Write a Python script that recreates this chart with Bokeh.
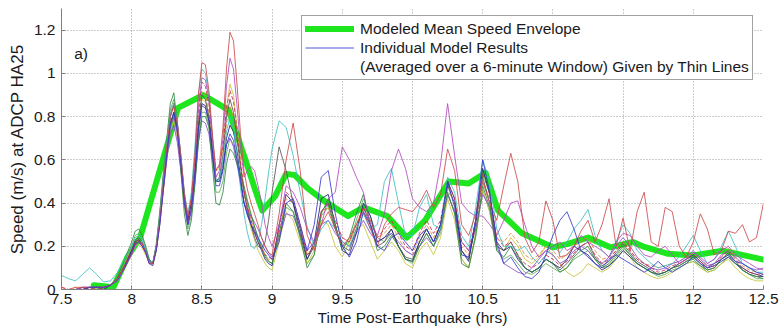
from bokeh.plotting import figure
from bokeh.models import (Legend, LegendItem, FixedTicker, NumeralTickFormatter, Label)
from bokeh.embed import file_html
from bokeh.resources import INLINE

# ---------------- data ----------------
# sampling times (hrs); finer sampling over the fast 8-9 h oscillations
time_h = [7.50, 7.55, 7.60, 7.65, 7.70, 7.75, 7.80, 7.85, 7.90, 7.95,
          8.000, 8.025, 8.050, 8.075, 8.100, 8.125, 8.150, 8.175, 8.200, 8.225,
          8.250, 8.275, 8.300, 8.325, 8.350, 8.375, 8.400, 8.425, 8.450, 8.475,
          8.500, 8.525, 8.550, 8.575, 8.600, 8.625, 8.650, 8.675, 8.700, 8.725,
          8.750, 8.775, 8.800, 8.825, 8.850, 8.875, 8.900, 8.925, 8.950, 8.975,
          9.00, 9.05, 9.10, 9.15, 9.20, 9.25, 9.30, 9.35, 9.40, 9.45,
          9.50, 9.55, 9.60, 9.65, 9.70, 9.75, 9.80, 9.85, 9.90, 9.95,
          10.00, 10.05, 10.10, 10.15, 10.20, 10.25, 10.30, 10.35, 10.40, 10.45,
          10.50, 10.55, 10.60, 10.65, 10.70, 10.75, 10.80, 10.85, 10.90, 10.95,
          11.00, 11.05, 11.10, 11.15, 11.20, 11.25, 11.30, 11.35, 11.40, 11.45,
          11.50, 11.55, 11.60, 11.65, 11.70, 11.75, 11.80, 11.85, 11.90, 11.95,
          12.00, 12.05, 12.10, 12.15, 12.20, 12.25, 12.30, 12.35, 12.40, 12.45,
          12.50]

model_red = [0.00, 0.00, 0.01, 0.01, 0.01, 0.00, 0.01, 0.02, 0.05, 0.11,
             0.17, 0.21, 0.22, 0.21, 0.17, 0.12, 0.12, 0.19, 0.32, 0.49,
             0.66, 0.80, 0.85, 0.77, 0.62, 0.44, 0.34, 0.42, 0.62, 0.90,
             1.05, 1.04, 0.92, 0.72, 0.55, 0.58, 0.75, 1.02, 1.19, 1.15,
             0.95, 0.72, 0.55, 0.46, 0.40, 0.35, 0.30, 0.24, 0.20, 0.17,
             0.16, 0.35, 0.60, 0.77, 0.55, 0.25, 0.18, 0.30, 0.36, 0.28,
             0.20, 0.24, 0.30, 0.36, 0.28, 0.20, 0.30, 0.35, 0.38, 0.37,
             0.36, 0.40, 0.46, 0.38, 0.44, 0.65, 0.55, 0.30, 0.25, 0.35,
             0.50, 0.40, 0.32, 0.48, 0.63, 0.50, 0.24, 0.17, 0.22, 0.41,
             0.32, 0.15, 0.16, 0.20, 0.27, 0.32, 0.22, 0.30, 0.42, 0.20,
             0.33, 0.18, 0.36, 0.45, 0.22, 0.20, 0.38, 0.36, 0.20, 0.15,
             0.22, 0.35, 0.28, 0.16, 0.18, 0.27, 0.26, 0.30, 0.22, 0.24,
             0.40]
model_magenta = [0.00, 0.00, 0.00, 0.01, 0.01, 0.01, 0.01, 0.02, 0.05, 0.10,
                 0.16, 0.20, 0.22, 0.20, 0.17, 0.12, 0.12, 0.18, 0.30, 0.46,
                 0.62, 0.75, 0.80, 0.72, 0.58, 0.41, 0.30, 0.38, 0.58, 0.84,
                 0.98, 0.97, 0.88, 0.69, 0.52, 0.55, 0.70, 0.94, 1.07, 1.02,
                 0.85, 0.66, 0.52, 0.55, 0.57, 0.55, 0.48, 0.40, 0.30, 0.24,
                 0.20, 0.30, 0.48, 0.45, 0.38, 0.28, 0.22, 0.30, 0.42, 0.45,
                 0.66, 0.60, 0.52, 0.45, 0.30, 0.25, 0.35, 0.55, 0.65, 0.56,
                 0.42, 0.38, 0.36, 0.40, 0.58, 0.86, 0.62, 0.40, 0.36, 0.34,
                 0.34, 0.30, 0.25, 0.32, 0.40, 0.41, 0.30, 0.20, 0.15, 0.18,
                 0.20, 0.22, 0.18, 0.20, 0.25, 0.22, 0.20, 0.18, 0.15, 0.22,
                 0.26, 0.25, 0.20, 0.16, 0.15, 0.18, 0.20, 0.16, 0.12, 0.14,
                 0.17, 0.15, 0.12, 0.14, 0.18, 0.20, 0.16, 0.14, 0.12, 0.10,
                 0.09]
model_cyan = [0.065, 0.05, 0.04, 0.07, 0.10, 0.07, 0.035, 0.04, 0.08, 0.14,
              0.20, 0.24, 0.25, 0.23, 0.18, 0.13, 0.12, 0.20, 0.34, 0.51,
              0.68, 0.81, 0.86, 0.78, 0.62, 0.45, 0.35, 0.45, 0.66, 0.90,
              1.02, 1.00, 0.90, 0.70, 0.50, 0.51, 0.60, 0.73, 0.80, 0.75,
              0.62, 0.47, 0.35, 0.26, 0.20, 0.19, 0.22, 0.30, 0.42, 0.54,
              0.65, 0.78, 0.75, 0.62, 0.45, 0.29, 0.20, 0.28, 0.32, 0.28,
              0.22, 0.20, 0.28, 0.35, 0.28, 0.30, 0.50, 0.56, 0.40, 0.25,
              0.25, 0.38, 0.44, 0.30, 0.28, 0.52, 0.45, 0.25, 0.20, 0.38,
              0.60, 0.50, 0.28, 0.20, 0.20, 0.18, 0.20, 0.15, 0.12, 0.16,
              0.20, 0.17, 0.22, 0.28, 0.32, 0.37, 0.25, 0.18, 0.15, 0.22,
              0.30, 0.26, 0.18, 0.15, 0.12, 0.10, 0.11, 0.12, 0.15, 0.20,
              0.25, 0.18, 0.12, 0.14, 0.20, 0.27, 0.20, 0.12, 0.10, 0.08,
              0.08]
model_blue = [0.00, 0.00, 0.00, 0.00, 0.01, 0.01, 0.01, 0.02, 0.04, 0.10,
              0.17, 0.21, 0.22, 0.20, 0.17, 0.12, 0.11, 0.18, 0.30, 0.46,
              0.62, 0.76, 0.82, 0.73, 0.58, 0.40, 0.30, 0.37, 0.52, 0.74,
              0.85, 0.84, 0.78, 0.63, 0.48, 0.48, 0.55, 0.67, 0.72, 0.69,
              0.60, 0.50, 0.40, 0.34, 0.30, 0.27, 0.24, 0.21, 0.18, 0.16,
              0.14, 0.22, 0.40, 0.42, 0.30, 0.18, 0.30, 0.52, 0.55, 0.35,
              0.20, 0.15, 0.22, 0.36, 0.30, 0.20, 0.18, 0.24, 0.26, 0.22,
              0.18, 0.25, 0.28, 0.22, 0.30, 0.50, 0.38, 0.16, 0.15, 0.32,
              0.60, 0.45, 0.22, 0.12, 0.15, 0.10, 0.06, 0.05, 0.08, 0.16,
              0.25, 0.32, 0.36, 0.28, 0.18, 0.15, 0.12, 0.10, 0.14, 0.16,
              0.14, 0.12, 0.10, 0.08, 0.10, 0.13, 0.10, 0.08, 0.10, 0.12,
              0.15, 0.12, 0.10, 0.12, 0.14, 0.16, 0.13, 0.12, 0.10, 0.08,
              0.07]
model_green = [0.00, 0.00, 0.00, 0.00, 0.00, 0.01, 0.01, 0.02, 0.06, 0.14,
               0.22, 0.27, 0.28, 0.25, 0.20, 0.14, 0.12, 0.21, 0.36, 0.54,
               0.70, 0.86, 0.91, 0.77, 0.55, 0.35, 0.25, 0.32, 0.48, 0.68,
               0.80, 0.80, 0.75, 0.57, 0.40, 0.39, 0.45, 0.58, 0.65, 0.63,
               0.58, 0.53, 0.48, 0.41, 0.35, 0.29, 0.24, 0.19, 0.15, 0.13,
               0.12, 0.26, 0.40, 0.36, 0.24, 0.10, 0.16, 0.35, 0.42, 0.30,
               0.18, 0.24, 0.35, 0.44, 0.30, 0.18, 0.20, 0.25, 0.20, 0.14,
               0.13, 0.20, 0.26, 0.20, 0.28, 0.45, 0.35, 0.12, 0.10, 0.25,
               0.48, 0.38, 0.18, 0.15, 0.20, 0.15, 0.10, 0.08, 0.10, 0.14,
               0.12, 0.08, 0.10, 0.15, 0.18, 0.20, 0.14, 0.10, 0.12, 0.16,
               0.20, 0.16, 0.12, 0.10, 0.08, 0.07, 0.08, 0.10, 0.11, 0.13,
               0.14, 0.11, 0.09, 0.10, 0.14, 0.16, 0.12, 0.09, 0.07, 0.06,
               0.05]
model_gray = [0.00, 0.00, 0.00, 0.00, 0.01, 0.01, 0.01, 0.02, 0.05, 0.11,
              0.18, 0.23, 0.24, 0.22, 0.18, 0.13, 0.12, 0.19, 0.33, 0.48,
              0.64, 0.80, 0.86, 0.76, 0.60, 0.43, 0.32, 0.40, 0.56, 0.77,
              0.90, 0.88, 0.80, 0.65, 0.50, 0.52, 0.62, 0.80, 0.88, 0.82,
              0.70, 0.57, 0.45, 0.37, 0.30, 0.24, 0.20, 0.19, 0.22, 0.32,
              0.45, 0.66, 0.55, 0.40, 0.25, 0.14, 0.20, 0.36, 0.40, 0.28,
              0.20, 0.18, 0.28, 0.38, 0.30, 0.20, 0.22, 0.28, 0.20, 0.15,
              0.14, 0.22, 0.28, 0.22, 0.30, 0.48, 0.40, 0.18, 0.14, 0.30,
              0.52, 0.40, 0.20, 0.18, 0.22, 0.16, 0.10, 0.08, 0.10, 0.14,
              0.12, 0.09, 0.12, 0.16, 0.20, 0.22, 0.15, 0.11, 0.13, 0.17,
              0.21, 0.17, 0.13, 0.11, 0.09, 0.07, 0.08, 0.10, 0.11, 0.13,
              0.15, 0.12, 0.09, 0.10, 0.14, 0.17, 0.13, 0.09, 0.07, 0.06,
              0.06]
model_yellow = [0.00, 0.00, 0.00, 0.00, 0.00, 0.00, 0.01, 0.02, 0.04, 0.10,
                0.16, 0.20, 0.21, 0.19, 0.16, 0.12, 0.11, 0.18, 0.30, 0.45,
                0.60, 0.73, 0.78, 0.70, 0.56, 0.40, 0.30, 0.38, 0.55, 0.76,
                0.88, 0.87, 0.80, 0.67, 0.55, 0.56, 0.65, 0.84, 0.95, 0.90,
                0.75, 0.59, 0.45, 0.36, 0.28, 0.23, 0.18, 0.15, 0.12, 0.10,
                0.09, 0.22, 0.36, 0.32, 0.22, 0.12, 0.18, 0.32, 0.30, 0.20,
                0.15, 0.22, 0.28, 0.30, 0.22, 0.14, 0.18, 0.22, 0.18, 0.12,
                0.10, 0.18, 0.22, 0.16, 0.24, 0.42, 0.32, 0.14, 0.10, 0.26,
                0.46, 0.36, 0.20, 0.18, 0.24, 0.20, 0.14, 0.12, 0.15, 0.20,
                0.16, 0.12, 0.08, 0.06, 0.08, 0.12, 0.10, 0.08, 0.10, 0.14,
                0.18, 0.15, 0.10, 0.08, 0.06, 0.05, 0.06, 0.08, 0.10, 0.12,
                0.13, 0.10, 0.08, 0.09, 0.12, 0.14, 0.10, 0.07, 0.05, 0.04,
                0.04]
model_purple = [0.00, 0.00, 0.00, 0.00, 0.01, 0.01, 0.01, 0.02, 0.05, 0.11,
                0.17, 0.21, 0.22, 0.20, 0.17, 0.13, 0.12, 0.19, 0.31, 0.46,
                0.60, 0.72, 0.76, 0.68, 0.55, 0.40, 0.30, 0.36, 0.50, 0.68,
                0.78, 0.77, 0.72, 0.60, 0.50, 0.51, 0.58, 0.67, 0.70, 0.66,
                0.58, 0.49, 0.40, 0.37, 0.34, 0.31, 0.28, 0.24, 0.20, 0.17,
                0.15, 0.24, 0.35, 0.34, 0.26, 0.18, 0.22, 0.30, 0.32, 0.26,
                0.22, 0.20, 0.26, 0.32, 0.26, 0.22, 0.24, 0.26, 0.22, 0.18,
                0.16, 0.20, 0.24, 0.20, 0.28, 0.44, 0.36, 0.22, 0.18, 0.28,
                0.44, 0.38, 0.20, 0.12, 0.10, 0.08, 0.07, 0.10, 0.14, 0.18,
                0.16, 0.12, 0.14, 0.18, 0.20, 0.18, 0.14, 0.12, 0.15, 0.20,
                0.24, 0.20, 0.15, 0.12, 0.10, 0.09, 0.10, 0.12, 0.13, 0.15,
                0.18, 0.14, 0.11, 0.12, 0.16, 0.18, 0.15, 0.12, 0.10, 0.09,
                0.10]
model_orange = [0.01, 0.00, 0.01, 0.00, 0.01, 0.01, 0.01, 0.02, 0.05, 0.12,
                0.19, 0.22, 0.23, 0.21, 0.18, 0.13, 0.12, 0.20, 0.34, 0.50,
                0.66, 0.80, 0.84, 0.76, 0.62, 0.45, 0.34, 0.42, 0.58, 0.79,
                0.92, 0.90, 0.82, 0.66, 0.52, 0.53, 0.60, 0.77, 0.85, 0.80,
                0.70, 0.56, 0.44, 0.38, 0.32, 0.27, 0.22, 0.19, 0.16, 0.14,
                0.12, 0.26, 0.42, 0.40, 0.30, 0.16, 0.20, 0.36, 0.38, 0.30,
                0.24, 0.22, 0.30, 0.38, 0.32, 0.24, 0.26, 0.30, 0.24, 0.18,
                0.16, 0.24, 0.30, 0.24, 0.30, 0.46, 0.40, 0.20, 0.16, 0.28,
                0.50, 0.42, 0.24, 0.22, 0.26, 0.22, 0.16, 0.14, 0.16, 0.20,
                0.18, 0.14, 0.16, 0.20, 0.22, 0.24, 0.18, 0.14, 0.15, 0.18,
                0.22, 0.18, 0.14, 0.12, 0.11, 0.10, 0.11, 0.12, 0.13, 0.15,
                0.17, 0.14, 0.11, 0.12, 0.15, 0.19, 0.15, 0.11, 0.09, 0.08,
                0.07]
model_navy = [0.00, 0.00, 0.00, 0.01, 0.01, 0.01, 0.00, 0.02, 0.05, 0.11,
              0.18, 0.22, 0.23, 0.21, 0.18, 0.13, 0.12, 0.19, 0.32, 0.48,
              0.64, 0.77, 0.82, 0.74, 0.60, 0.43, 0.32, 0.40, 0.54, 0.74,
              0.86, 0.85, 0.78, 0.64, 0.50, 0.50, 0.56, 0.70, 0.76, 0.73,
              0.64, 0.52, 0.40, 0.35, 0.30, 0.26, 0.22, 0.18, 0.14, 0.12,
              0.11, 0.30, 0.44, 0.40, 0.28, 0.14, 0.22, 0.42, 0.44, 0.30,
              0.18, 0.16, 0.26, 0.40, 0.34, 0.22, 0.24, 0.28, 0.20, 0.14,
              0.13, 0.22, 0.28, 0.22, 0.30, 0.50, 0.42, 0.18, 0.13, 0.32,
              0.56, 0.44, 0.22, 0.18, 0.20, 0.14, 0.10, 0.08, 0.10, 0.14,
              0.12, 0.10, 0.14, 0.20, 0.18, 0.16, 0.12, 0.09, 0.11, 0.14,
              0.18, 0.15, 0.12, 0.10, 0.08, 0.07, 0.08, 0.10, 0.12, 0.14,
              0.16, 0.13, 0.10, 0.11, 0.13, 0.15, 0.12, 0.10, 0.08, 0.07,
              0.06]
model_lightgreen = [0.00, 0.00, 0.00, 0.00, 0.01, 0.01, 0.01, 0.02, 0.06, 0.13,
                    0.20, 0.25, 0.26, 0.24, 0.19, 0.14, 0.12, 0.20, 0.35, 0.52,
                    0.68, 0.83, 0.88, 0.76, 0.58, 0.39, 0.28, 0.34, 0.50, 0.70,
                    0.82, 0.82, 0.76, 0.61, 0.45, 0.45, 0.50, 0.63, 0.70, 0.67,
                    0.60, 0.53, 0.46, 0.40, 0.34, 0.29, 0.24, 0.20, 0.16, 0.13,
                    0.12, 0.24, 0.38, 0.36, 0.26, 0.12, 0.16, 0.34, 0.38, 0.28,
                    0.20, 0.22, 0.32, 0.42, 0.34, 0.24, 0.22, 0.26, 0.20, 0.14,
                    0.12, 0.20, 0.26, 0.20, 0.26, 0.44, 0.36, 0.14, 0.10, 0.24,
                    0.46, 0.36, 0.18, 0.14, 0.16, 0.12, 0.08, 0.07, 0.09, 0.12,
                    0.10, 0.08, 0.10, 0.14, 0.16, 0.18, 0.14, 0.10, 0.11, 0.15,
                    0.19, 0.16, 0.12, 0.10, 0.08, 0.06, 0.07, 0.09, 0.10, 0.12,
                    0.13, 0.11, 0.08, 0.09, 0.12, 0.15, 0.12, 0.09, 0.07, 0.05,
                    0.05]
model_crimson = [0.01, 0.00, 0.00, 0.01, 0.00, 0.01, 0.01, 0.02, 0.05, 0.11,
                 0.18, 0.22, 0.23, 0.21, 0.18, 0.13, 0.12, 0.20, 0.33, 0.50,
                 0.66, 0.81, 0.86, 0.77, 0.62, 0.44, 0.33, 0.43, 0.60, 0.82,
                 0.96, 0.94, 0.86, 0.70, 0.55, 0.57, 0.66, 0.84, 0.92, 0.87,
                 0.74, 0.59, 0.46, 0.38, 0.32, 0.27, 0.22, 0.19, 0.16, 0.15,
                 0.14, 0.28, 0.45, 0.42, 0.30, 0.16, 0.20, 0.36, 0.40, 0.32,
                 0.24, 0.22, 0.30, 0.38, 0.32, 0.24, 0.28, 0.32, 0.26, 0.20,
                 0.18, 0.26, 0.32, 0.26, 0.32, 0.50, 0.42, 0.22, 0.18, 0.32,
                 0.54, 0.44, 0.24, 0.20, 0.22, 0.16, 0.12, 0.10, 0.12, 0.16,
                 0.14, 0.11, 0.13, 0.17, 0.20, 0.22, 0.16, 0.12, 0.14, 0.18,
                 0.22, 0.18, 0.14, 0.12, 0.10, 0.08, 0.09, 0.11, 0.12, 0.14,
                 0.16, 0.13, 0.10, 0.11, 0.15, 0.18, 0.14, 0.10, 0.08, 0.07,
                 0.07]

envelope_t = [7.73, 7.87, 7.97, 8.06, 8.33, 8.51, 8.69, 8.81, 8.88, 8.93,
              9.02, 9.10, 9.16, 9.25, 9.37, 9.54, 9.65, 9.82, 9.96, 10.09,
              10.26, 10.40, 10.52, 10.61, 10.78, 11.00, 11.10, 11.25, 11.41, 11.57,
              11.64, 11.82, 12.00, 12.21, 12.50]
envelope_v = [0.02, 0.01, 0.15, 0.24, 0.84, 0.90, 0.83, 0.60, 0.46, 0.365,
              0.43, 0.535, 0.53, 0.47, 0.41, 0.34, 0.38, 0.34, 0.24, 0.32,
              0.50, 0.49, 0.54, 0.365, 0.26, 0.195, 0.21, 0.24, 0.195, 0.22,
              0.20, 0.165, 0.157, 0.18, 0.138]

x_ticks = [7.5, 8, 8.5, 9, 9.5, 10, 10.5, 11, 11.5, 12, 12.5]
y_ticks = [0, 0.2, 0.4, 0.6, 0.8, 1.0, 1.2]

FONT = "Liberation Sans"

p = figure(width=780, height=334, x_range=(7.5, 12.5), y_range=(0, 1.3),
           output_backend="svg", toolbar_location=None,
           min_border_left=61, min_border_right=17, min_border_top=8,
           min_border_bottom=45)
p.outline_line_color = None
p.background_fill_color = "white"
p.border_fill_color = "white"

for ax in (p.xaxis[0], p.yaxis[0]):
    ax.major_tick_in = 4
    ax.major_tick_out = 0
    ax.minor_tick_in = 0
    ax.minor_tick_out = 0
    ax.axis_line_color = "#808080"
    ax.major_tick_line_color = "#808080"
    ax.major_label_text_font = FONT
    ax.major_label_text_font_size = "15.5px"
    ax.major_label_text_color = "#1a1a1a"
    ax.axis_label_text_font = FONT
    ax.axis_label_text_font_style = "normal"
    ax.axis_label_text_color = "#1a1a1a"
    ax.formatter = NumeralTickFormatter(format="0.[0]")

p.xaxis.ticker = FixedTicker(ticks=x_ticks)
p.yaxis.ticker = FixedTicker(ticks=y_ticks)
p.xaxis.axis_label = "Time Post-Earthquake (hrs)"
p.yaxis.axis_label = "Speed (m/s) at ADCP HA25"
p.xaxis.axis_label_text_font_size = "15.5px"
p.yaxis.axis_label_text_font_size = "17px"
p.xaxis.major_label_standoff = 4
p.xaxis.axis_label_standoff = 2
p.yaxis.major_label_standoff = 6
p.yaxis.axis_label_standoff = 4

p.xgrid.ticker = FixedTicker(ticks=x_ticks)
p.ygrid.ticker = FixedTicker(ticks=y_ticks)
for g in (p.xgrid[0], p.ygrid[0]):
    g.grid_line_color = "#9a9a9a"
    g.grid_line_dash = "1 2"
    g.grid_line_width = 1

r_env = p.line(envelope_t, envelope_v, line_color="#1ee61e", line_width=6,
               line_join="round", line_cap="round")

series = [
    (model_lightgreen, "#5fae5f", "solid"),
    (model_yellow, "#c9c43a", "solid"),
    (model_orange, "#e08a3a", "4 2"),
    (model_purple, "#8a4fd0", "solid"),
    (model_gray, "#555555", "solid"),
    (model_navy, "#20207a", "solid"),
    (model_green, "#2f8a3f", "solid"),
    (model_crimson, "#d0284f", "4 2"),
    (model_cyan, "#3fc0c0", "solid"),
    (model_magenta, "#b44ac0", "solid"),
    (model_red, "#cc4a4a", "solid"),
    (model_blue, "#3a3ad0", "solid"),
]
renderers = {}
for vals, col, dash in series:
    r = p.line(time_h, vals, line_color=col, line_width=1, line_alpha=0.85,
               line_dash=dash, line_join="round")
    renderers[col] = r

r_blank = p.line([7.5, 7.5], [0, 0], line_alpha=0)

legend = Legend(items=[
    LegendItem(label="Modeled Mean Speed Envelope", renderers=[r_env]),
    LegendItem(label="Individual Model Results", renderers=[renderers["#3a3ad0"]]),
    LegendItem(label="(Averaged over a 6-minute Window) Given by Thin Lines",
               renderers=[r_blank]),
], location=(240, 209))
legend.label_text_font = FONT
legend.label_text_font_size = "15.5px"
legend.label_text_color = "#1a1a1a"
legend.glyph_width = 49
legend.glyph_height = 19
legend.label_height = 19
legend.label_standoff = 6
legend.padding = 3
legend.spacing = 0
legend.margin = 0
legend.border_line_color = "#444444"
legend.border_line_width = 1
legend.background_fill_color = "white"
legend.background_fill_alpha = 1
p.add_layout(legend)

p.add_layout(Label(x=7.59, y=1.094, text="a)", text_font=FONT,
                   text_font_size="15.5px", text_baseline="middle",
                   text_color="#1a1a1a"))

open("out.html", "w").write(file_html(p, INLINE))
